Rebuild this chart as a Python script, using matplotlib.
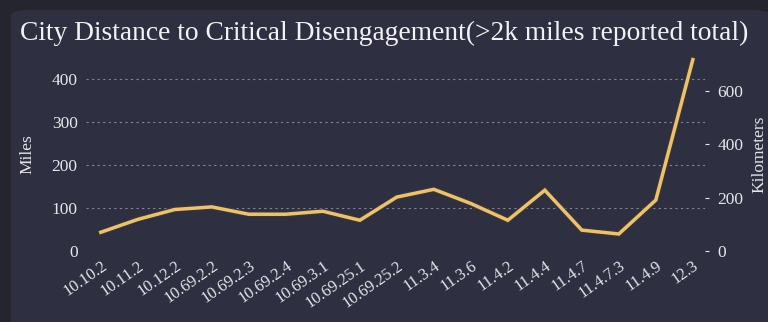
import matplotlib
matplotlib.use("Agg")
import matplotlib.pyplot as plt
import matplotlib.patheffects as pe
from matplotlib.patches import FancyBboxPatch

versions = ["10.10.2", "10.11.2", "10.12.2", "10.69.2.2", "10.69.2.3", "10.69.2.4",
            "10.69.3.1", "10.69.25.1", "10.69.25.2", "11.3.4", "11.3.6", "11.4.2",
            "11.4.4", "11.4.7", "11.4.7.3", "11.4.9", "12.3"]
miles = [44, 74, 97, 103, 86, 86, 93, 72, 126, 144, 111, 72, 142, 49, 40, 119, 446]
left_ticks = [0, 100, 200, 300, 400]
right_ticks = [0, 200, 400, 600]
KM_PER_MILE = 1.609344

bg = "#2e2f41"
outer = "#24252f"
txt = "#e6e6ea"
plt.rcParams['font.family'] = ['Liberation Serif', 'DejaVu Serif']

fig = plt.figure(figsize=(7.68, 3.22), dpi=100, facecolor=outer)
panel = FancyBboxPatch((0.014, -0.05), 0.99, 1.018, boxstyle="round,pad=0,rounding_size=0.02",
                       transform=fig.transFigure, facecolor=bg, edgecolor="none", zorder=-10)
fig.patches.append(panel)

ax = fig.add_axes([0.112, 0.22, 0.806, 0.60])
ax.set_facecolor("none")
x = list(range(len(versions)))
ax.plot(x, miles, color="#e7c27c", lw=2.5, solid_joinstyle="miter", zorder=3,
        path_effects=[pe.Stroke(linewidth=4.0, foreground="#45361f"), pe.Normal()],
        clip_on=False)
ax.set_xlim(-0.4, len(versions) - 1 + 0.33)
ax.set_ylim(0, 450)
ax.set_yticks(left_ticks)
ax.set_xticks(x)
ax.set_xticklabels(versions, rotation=35, ha="right", rotation_mode="anchor")
ax.grid(axis="y", color="#9a9bab", linestyle=(0, (2, 3)), lw=0.8, alpha=0.8)
ax.tick_params(axis="both", colors=txt, length=0)
ax.tick_params(axis="x", pad=5, labelsize=11.8)
ax.tick_params(axis="y", pad=6, labelsize=12.5)
for s in ax.spines.values():
    s.set_visible(False)
ax.set_ylabel("Miles", color=txt, fontsize=12.5, labelpad=12)

ax2 = ax.twinx()
ax2.set_ylim(0, 450 * KM_PER_MILE)
ax2.set_yticks(right_ticks)
ax2.tick_params(axis="y", colors=txt, labelsize=12.5, length=3, width=0.8, pad=6)
for t in ax2.yaxis.get_ticklines():
    t.set_color("#9a9bab")
for s in ax2.spines.values():
    s.set_visible(False)
ax2.set_ylabel("Kilometers", color=txt, fontsize=12.5, labelpad=6)

fig.text(0.5, 0.897, "City Distance to Critical Disengagement(>2k miles reported total)",
         ha="center", va="center", color="#f2f2f4", fontsize=19.8)

fig.savefig("out.png", dpi=100, facecolor=fig.get_facecolor())
